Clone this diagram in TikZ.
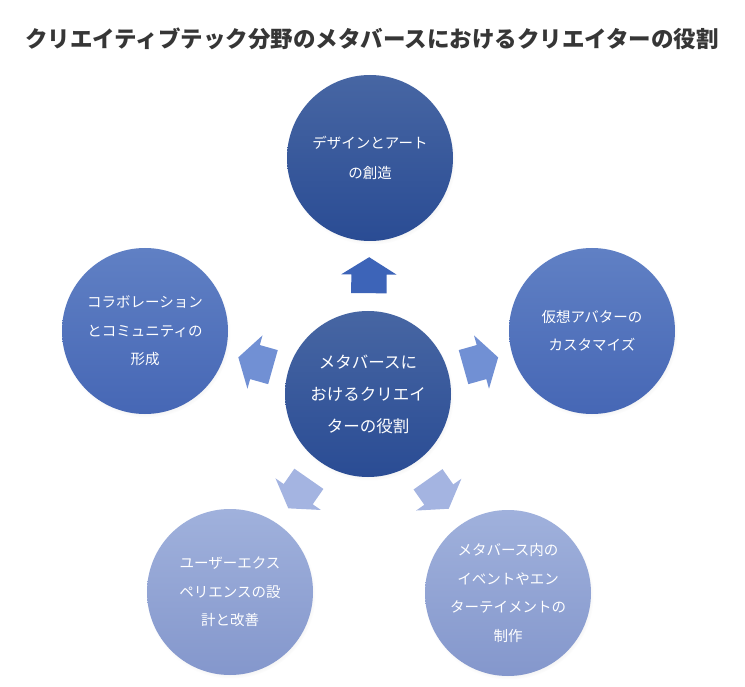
\documentclass[tikz,border=0pt]{standalone}
\usepackage{fontspec}
\setmainfont{Noto Sans CJK JP}
\usetikzlibrary{positioning,shapes.arrows,shadows}

\definecolor{titlegray}{HTML}{363636}
\definecolor{darktop}{HTML}{4766A3}
\definecolor{darkbot}{HTML}{2A4C94}
\definecolor{midtop}{HTML}{6080C4}
\definecolor{midbot}{HTML}{4667B5}
\definecolor{lighttop}{HTML}{A0B1DC}
\definecolor{lightbot}{HTML}{8497CC}
\definecolor{arrowdark}{HTML}{3D64B8}
\definecolor{arrowmid}{HTML}{7190D4}
\definecolor{arrowlight}{HTML}{A4B4E1}

\begin{document}
\begin{tikzpicture}[
    x=1pt, y=-1pt,
    bubble/.style={circle, minimum size=166pt, inner sep=0pt, align=center, text=white,
        font=\fontsize{14.5}{28.5}\selectfont,
        circular drop shadow={opacity=0.22, shadow scale=1.02, shadow xshift=1pt, shadow yshift=-2pt}},
    darkbubble/.style={bubble, top color=darktop, bottom color=darkbot},
    midbubble/.style={bubble, top color=midtop, bottom color=midbot},
    lightbubble/.style={bubble, top color=lighttop, bottom color=lightbot},
    blockarrow/.style={single arrow, minimum height=36pt, inner xsep=0pt, inner ysep=17.5pt,
        single arrow head extend=10pt, single arrow tip angle=116,
        sloped, allow upside down, pos=0.48, fill=#1}
]
    % 余白を含む全体の大きさ
    \useasboundingbox (0,0) rectangle (745,687);

    % タイトル
    \node[font=\bfseries\fontsize{22.5}{26}\selectfont, text=titlegray] (title) at (372,39)
        {クリエイティブテック分野のメタバースにおけるクリエイターの役割};

    % 中央の円
    \node[darkbubble, font=\fontsize{16.5}{32}\selectfont] (hub) at (368,394)
        {メタバースに\\おけるクリエイ\\ターの役割};

    % 周りの円
    \node[darkbubble, font=\fontsize{14.5}{30}\selectfont] (design) at (370,158)
        {デザインとアート\\の創造};
    \node[midbubble] (avatar) at (592,331) {仮想アバターの\\カスタマイズ};
    \node[midbubble] (collab) at (145,331) {コラボレーション\\とコミュニティの\\形成};
    \node[lightbubble] (ux) at (230,592) {ユーザーエクス\\ペリエンスの設\\計と改善};
    \node[lightbubble] (event) at (508,593) {メタバース内の\\イベントやエン\\ターテイメントの\\制作};

    % 中央から外へ向かう矢印
    \path (hub.center) -- (design.center) node[blockarrow=arrowdark] (a1) {};
    \path (hub.center) -- (avatar.center) node[blockarrow=arrowmid] (a2) {};
    \path (hub.center) -- (collab.center) node[blockarrow=arrowmid] (a3) {};
    \path (hub.center) -- (ux.center) node[blockarrow=arrowlight] (a4) {};
    \path (hub.center) -- (event.center) node[blockarrow=arrowlight] (a5) {};

\end{tikzpicture}
\end{document}
